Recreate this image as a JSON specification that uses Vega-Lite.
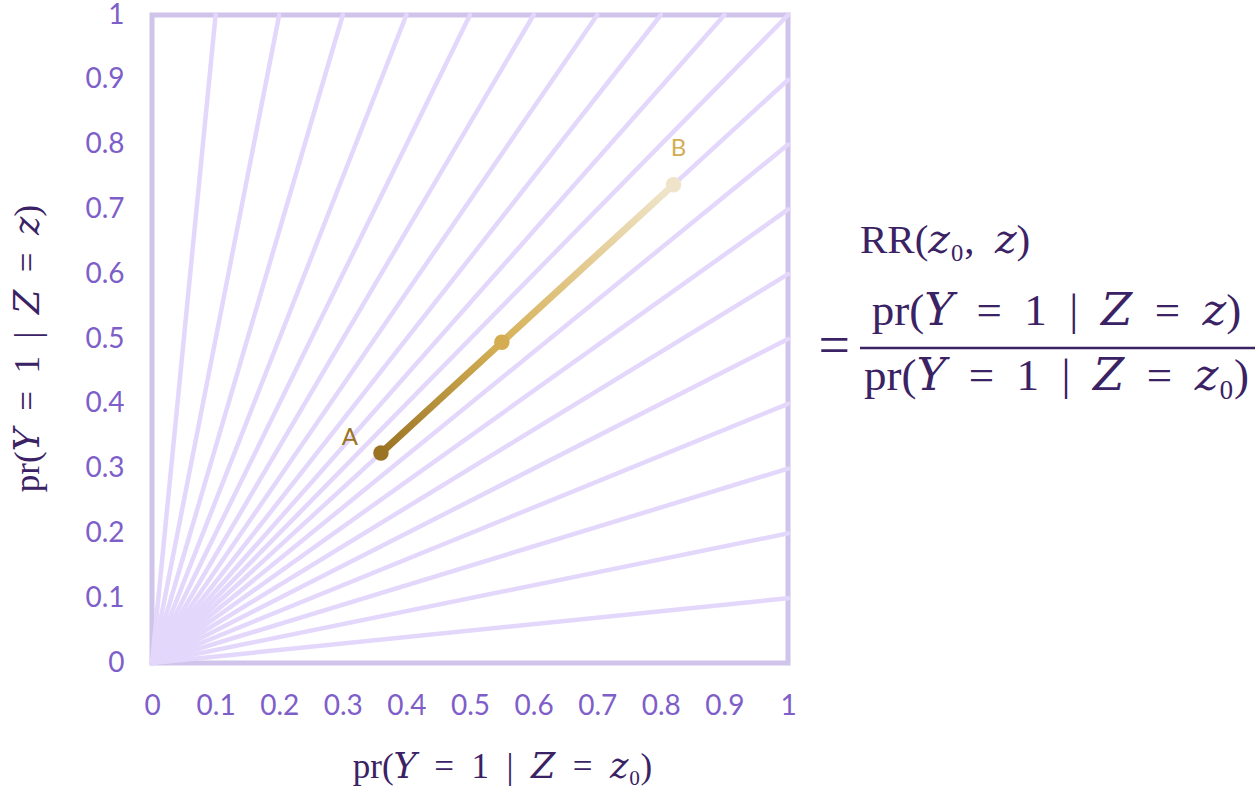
{
  "$schema": "https://vega.github.io/schema/vega-lite/v6.json",
  "width": 636,
  "height": 648,
  "autosize": {"type": "none"},
  "padding": {"left": 152, "top": 15, "right": 469, "bottom": 127},
  "background": "white",
  "config": {
    "view": {"stroke": "#d0c4ea", "strokeWidth": 5},
    "axis": {
      "domain": false,
      "ticks": false,
      "grid": false,
      "labelFont": "Lato",
      "labelFontSize": 28,
      "labelColor": "#7e5ec9",
      "labelFlush": false,
      "labelOverlap": false,
      "labelBound": false,
      "titleFont": "Liberation Serif, DejaVu Serif",
      "titleFontWeight": "normal",
      "titleFontSize": 35,
      "titleColor": "#3a2264"
    }
  },
  "datasets": {
    "rays": [
      {"sx": 0, "sy": 0, "ex": 0.1, "ey": 1}, {"sx": 0, "sy": 0, "ex": 0.2, "ey": 1},
      {"sx": 0, "sy": 0, "ex": 0.3, "ey": 1}, {"sx": 0, "sy": 0, "ex": 0.4, "ey": 1},
      {"sx": 0, "sy": 0, "ex": 0.5, "ey": 1}, {"sx": 0, "sy": 0, "ex": 0.6, "ey": 1},
      {"sx": 0, "sy": 0, "ex": 0.7, "ey": 1}, {"sx": 0, "sy": 0, "ex": 0.8, "ey": 1},
      {"sx": 0, "sy": 0, "ex": 0.9, "ey": 1}, {"sx": 0, "sy": 0, "ex": 1, "ey": 1},
      {"sx": 0, "sy": 0, "ex": 1, "ey": 0.9}, {"sx": 0, "sy": 0, "ex": 1, "ey": 0.8},
      {"sx": 0, "sy": 0, "ex": 1, "ey": 0.7}, {"sx": 0, "sy": 0, "ex": 1, "ey": 0.6},
      {"sx": 0, "sy": 0, "ex": 1, "ey": 0.5}, {"sx": 0, "sy": 0, "ex": 1, "ey": 0.4},
      {"sx": 0, "sy": 0, "ex": 1, "ey": 0.3}, {"sx": 0, "sy": 0, "ex": 1, "ey": 0.2},
      {"sx": 0, "sy": 0, "ex": 1, "ey": 0.1}
    ],
    "path": [
      {"pt": "A", "p0": 0.36, "p1": 0.324, "label": "A"},
      {"pt": "M", "p0": 0.55, "p1": 0.495, "label": ""},
      {"pt": "B", "p0": 0.82, "p1": 0.738, "label": "B"}
    ],
    "one": [{"k": 1}]
  },
  "layer": [
    {
      "data": {"name": "rays"},
      "mark": {"type": "rule", "stroke": "#e4d7fc", "strokeWidth": 4.5, "strokeCap": "round"},
      "encoding": {
        "x": {"field": "sx", "type": "quantitative", "scale": {"domain": [0, 1], "nice": false, "zero": true},
          "axis": {
            "values": [0, 0.1, 0.2, 0.3, 0.4, 0.5, 0.6, 0.7, 0.8, 0.9, 1],
            "format": "~g",
            "labelPadding": 29,
            "title": "pr(𝑌\u2002=\u20021\u2002|\u2002𝑍\u2002=\u2002𝑧₀)",
            "titleX": 350,
            "titleY": 114,
            "titleBaseline": "alphabetic"
          }},
        "y": {"field": "sy", "type": "quantitative", "scale": {"domain": [0, 1], "nice": false, "zero": true},
          "axis": {
            "values": [0, 0.1, 0.2, 0.3, 0.4, 0.5, 0.6, 0.7, 0.8, 0.9, 1],
            "format": "~g",
            "labelPadding": 28,
            "title": "pr(𝑌\u2002=\u20021\u2002|\u2002𝑍\u2002=\u2002𝑧)",
            "titleX": -114,
            "titleY": 333,
            "titleAngle": -90,
            "titleAlign": "center",
            "titleBaseline": "alphabetic"
          }},
        "x2": {"field": "ex"},
        "y2": {"field": "ey"}
      }
    },
    {
      "data": {"name": "path"},
      "mark": {
        "type": "line",
        "strokeWidth": 7,
        "strokeCap": "round",
        "stroke": {
          "gradient": "linear",
          "x1": 0, "y1": 1, "x2": 1, "y2": 0,
          "stops": [
            {"offset": 0, "color": "#9a7424"},
            {"offset": 0.41, "color": "#d6b157"},
            {"offset": 1, "color": "#f0e6cd"}
          ]
        }
      },
      "encoding": {
        "x": {"field": "p0", "type": "quantitative"},
        "y": {"field": "p1", "type": "quantitative"},
        "order": {"field": "p0"}
      }
    },
    {
      "data": {"name": "path"},
      "mark": {"type": "circle", "size": 240, "opacity": 1},
      "encoding": {
        "x": {"field": "p0", "type": "quantitative"},
        "y": {"field": "p1", "type": "quantitative"},
        "color": {"field": "pt", "type": "nominal",
          "scale": {"domain": ["A", "M", "B"], "range": ["#9a7424", "#d4ac52", "#efe4ca"]},
          "legend": null}
      }
    },
    {
      "data": {"name": "path"},
      "transform": [{"filter": "datum.pt === 'A'"}],
      "mark": {"type": "text", "font": "Lato", "fontSize": 24, "color": "#9a7424", "dx": -31, "dy": -15, "baseline": "middle", "align": "center"},
      "encoding": {
        "x": {"field": "p0", "type": "quantitative"},
        "y": {"field": "p1", "type": "quantitative"},
        "text": {"field": "label"}
      }
    },
    {
      "data": {"name": "path"},
      "transform": [{"filter": "datum.pt === 'B'"}],
      "mark": {"type": "text", "font": "Lato", "fontSize": 24, "color": "#d4ac52", "dx": 5, "dy": -36, "baseline": "middle", "align": "center"},
      "encoding": {
        "x": {"field": "p0", "type": "quantitative"},
        "y": {"field": "p1", "type": "quantitative"},
        "text": {"field": "label"}
      }
    },
    {
      "data": {"name": "one"},
      "mark": {"type": "text", "font": "Liberation Serif, DejaVu Serif", "fontSize": 41, "color": "#3a2264", "align": "left", "baseline": "alphabetic"},
      "encoding": {
        "x": {"datum": 1.1132},
        "y": {"datum": 0.6327},
        "text": {"value": "RR(𝑧₀,\u2002𝑧)"}
      }
    },
    {
      "data": {"name": "one"},
      "mark": {"type": "text", "font": "Liberation Serif, DejaVu Serif", "fontSize": 56, "color": "#3a2264", "align": "left", "baseline": "middle"},
      "encoding": {
        "x": {"datum": 1.048},
        "y": {"datum": 0.4877},
        "text": {"value": "="}
      }
    },
    {
      "data": {"name": "one"},
      "mark": {"type": "text", "font": "Liberation Serif, DejaVu Serif", "fontSize": 45, "color": "#3a2264", "align": "center", "baseline": "alphabetic"},
      "encoding": {
        "x": {"datum": 1.4222},
        "y": {"datum": 0.5216},
        "text": {"value": "pr(𝑌\u2002=\u20021\u2002|\u2002𝑍\u2002=\u2002𝑧)"}
      }
    },
    {
      "data": {"name": "one"},
      "mark": {"type": "rule", "stroke": "#3a2264", "strokeWidth": 2.5},
      "encoding": {
        "x": {"datum": 1.1132},
        "x2": {"datum": 1.7343},
        "y": {"datum": 0.4861}
      }
    },
    {
      "data": {"name": "one"},
      "mark": {"type": "text", "font": "Liberation Serif, DejaVu Serif", "fontSize": 45, "color": "#3a2264", "align": "center", "baseline": "alphabetic"},
      "encoding": {
        "x": {"datum": 1.4222},
        "y": {"datum": 0.4213},
        "text": {"value": "pr(𝑌\u2002=\u20021\u2002|\u2002𝑍\u2002=\u2002𝑧₀)"}
      }
    }
  ]
}
